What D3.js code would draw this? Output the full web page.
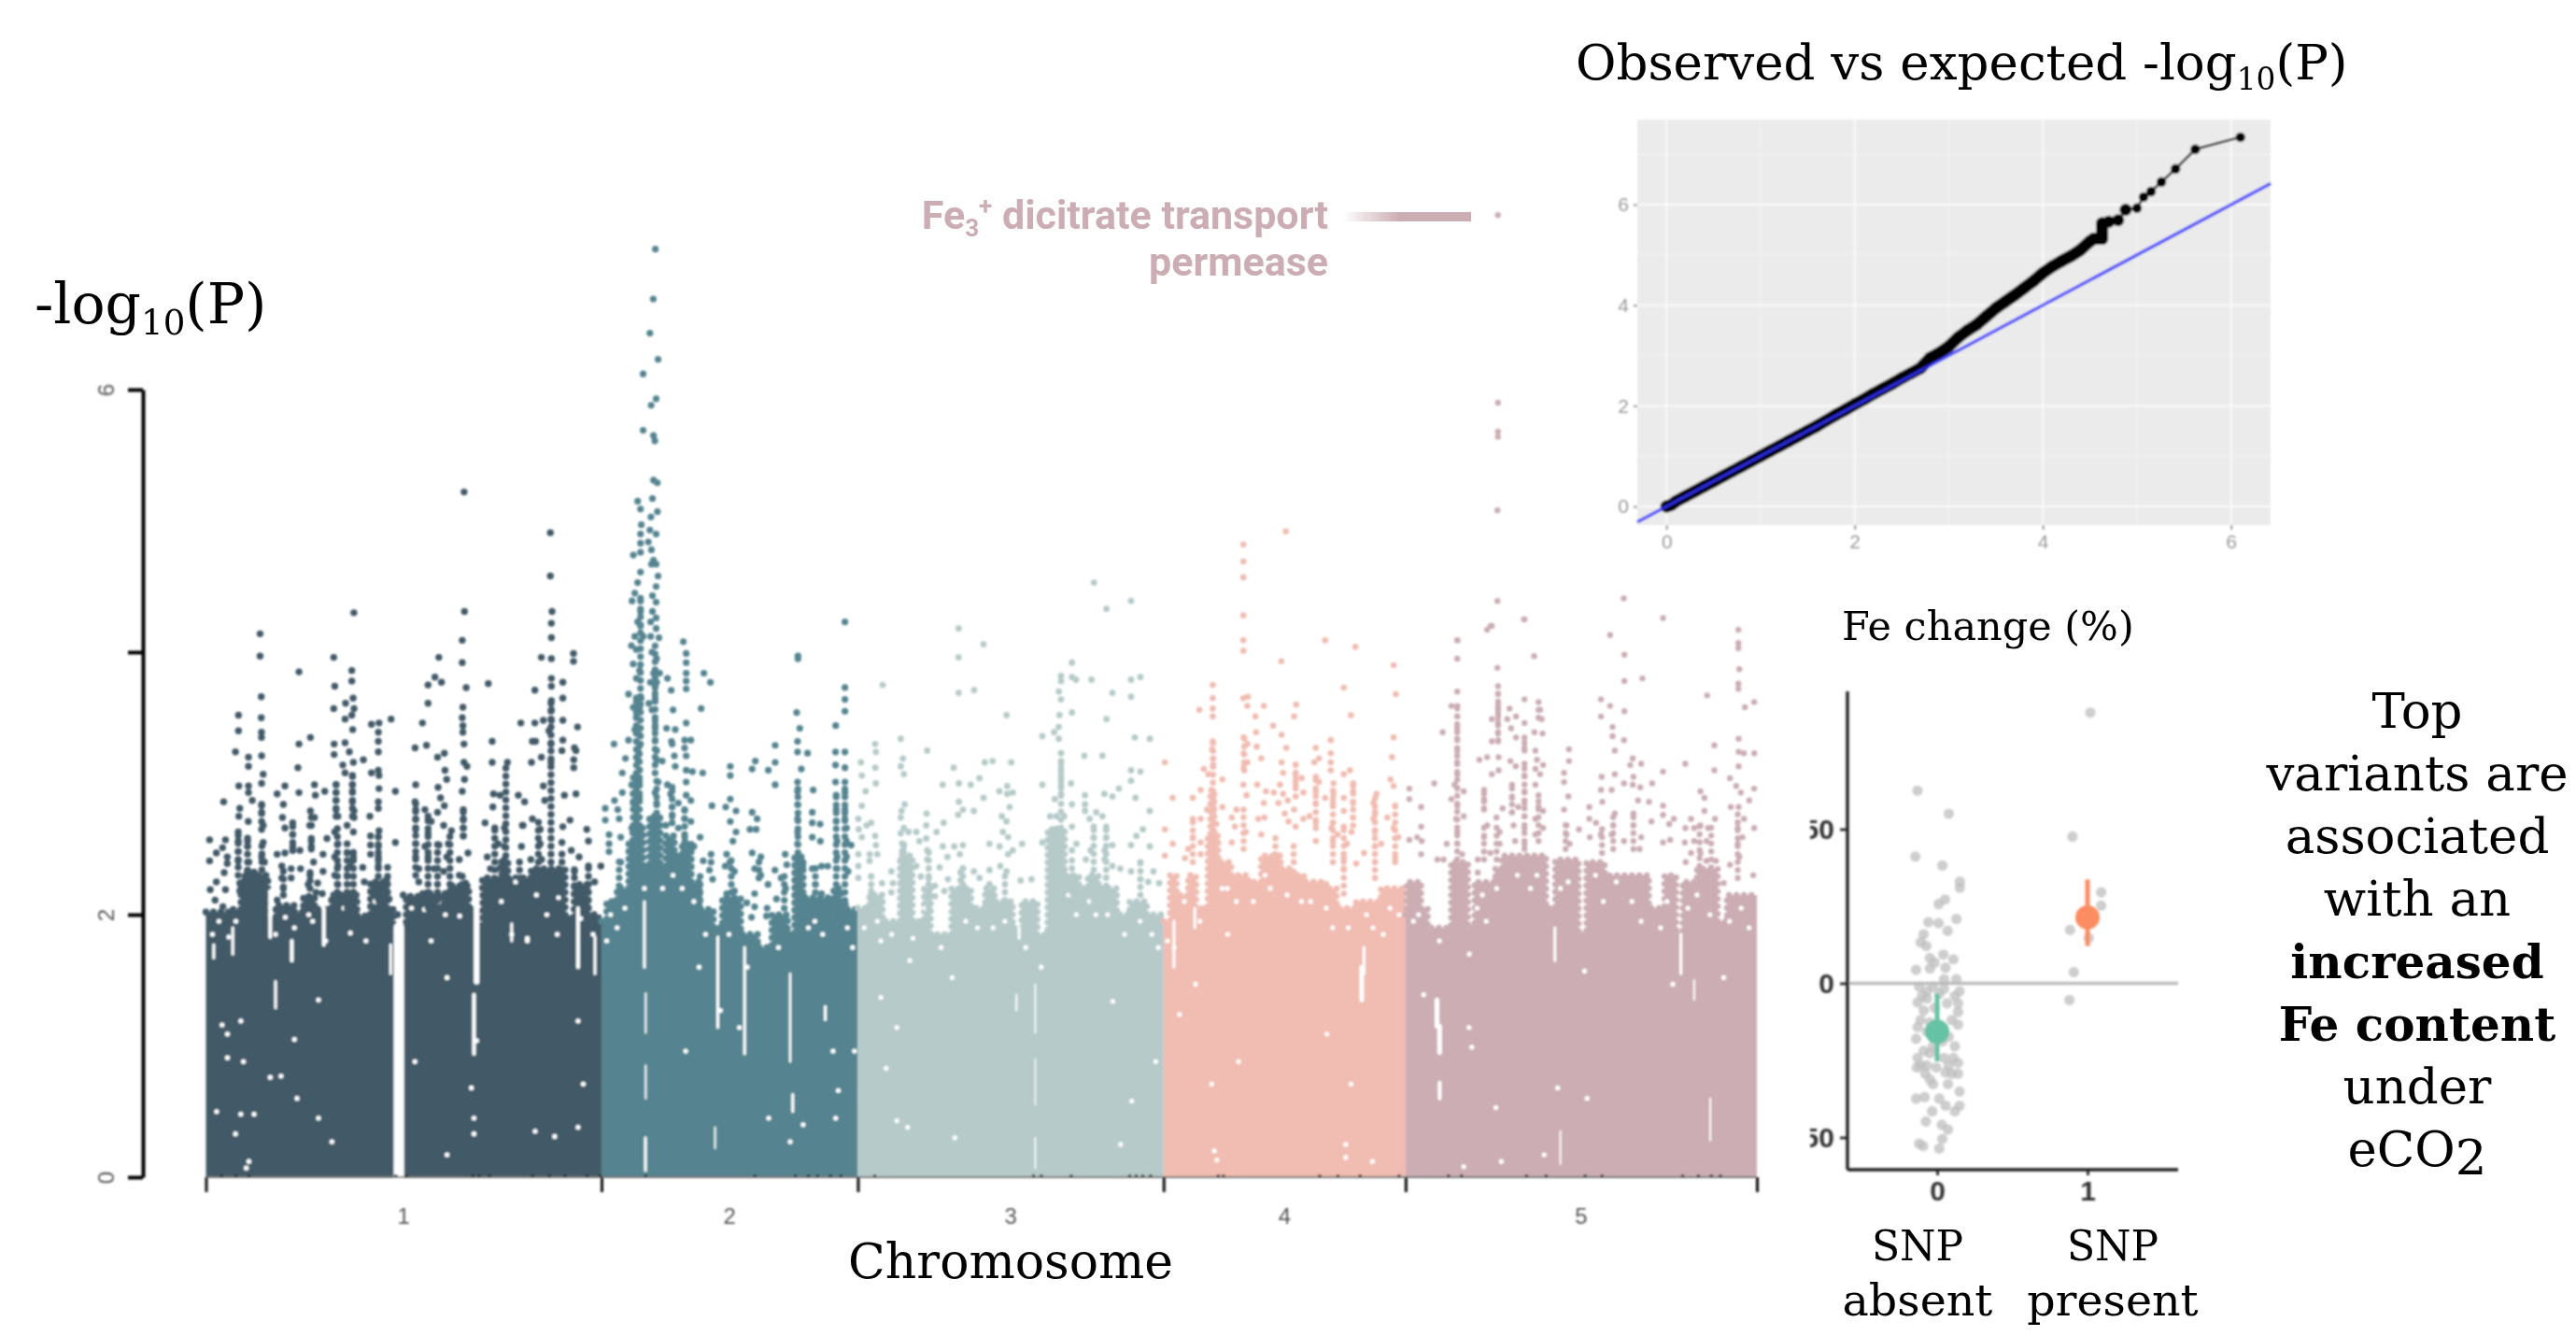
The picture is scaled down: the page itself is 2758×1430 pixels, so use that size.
<!DOCTYPE html>
<html><head><meta charset="utf-8">
<script src="https://cdn.jsdelivr.net/npm/d3@7"></script>
<style>html,body{margin:0;background:#fff;overflow:hidden}svg{display:block}text{font-family:"DejaVu Serif",serif;fill:#000}</style>
</head><body><svg id="c" width="2758" height="1430"></svg>
<script>
// ---------- Manhattan plot data (position in Mb within chromosome, -log10 P) ----------
const chromosomes = ["1","2","3","4","5"];
const chromLengths = [30.4,19.7,23.5,18.6,27.0];
const chromColors = ["#425a68","#558490","#b5cac9","#f1bcb1","#cbadb3"];
const chromDotRadius = [3.7,3.6,3.4,3.3,3.2];

const chr1Profile = [[0,2.02],[2,2.04],[2.7,2.25],[3,2.33],[3.7,2.3],[4.75,1.95],[5.35,2.07],[6.8,2.02],[7.5,2.14],[8.35,2.04],[9.65,2.15],[11.6,1.99],[12.65,2.25],[13.75,2.04],[14.4,1.9],[15.4,2.14],[16.35,2.16],[18.75,2.22],[20.2,2.04],[20.8,1.9],[21.25,2.28],[22.6,2.4],[23.2,2.28],[25,2.35],[27.6,1.97],[28.3,2.23],[29.3,2],[30.4,2]];
const chr2Profile = [[0,1.95],[0.4,2.1],[1.2,2.2],[2.1,2.55],[2.4,2.66],[3.2,2.35],[3.7,2.75],[4.5,2.35],[4.95,2.6],[5.6,2.45],[6.2,2.55],[6.9,2.25],[7.5,2.04],[8.6,1.9],[9.3,2.13],[10.7,1.85],[12,1.75],[13.1,2],[14.3,1.85],[14.85,2.44],[15.5,2.13],[17.6,1.95],[17.85,2.2],[18.4,2.1],[18.75,2.04],[19.7,2.04]];
const chr3Profile = [[0,2.05],[0.9,2.15],[1.9,1.95],[3.25,2.45],[4.2,1.95],[5.1,2.2],[5.6,1.85],[7.2,2.2],[8.7,2.05],[9.8,2.2],[10.5,2.1],[11.9,1.9],[12.6,2.1],[13.8,1.85],[14.6,2.65],[15.9,2.3],[17,2.2],[17.7,2.3],[18.5,2.2],[19.9,2],[20.9,2.1],[22.2,2],[23.5,2]];
const chr4Profile = [[0,1.95],[0.5,2.3],[1,2.15],[1.9,2.3],[2.5,2.05],[3.4,2.6],[3.6,2.95],[3.9,2.6],[4.2,2.4],[5.2,2.3],[6.5,2.25],[7.5,2.45],[9,2.35],[10,2.3],[10.8,2.25],[12.5,2.2],[13.3,2.05],[14.8,2.1],[16.7,2.2],[18.6,2.2]];
const chr5Profile = [[0,2],[0.1,2.25],[1.2,2.05],[1.7,1.9],[3.5,2.4],[4.8,1.9],[5.3,2.25],[6.9,2.35],[7.4,2.45],[10.8,2.05],[11.5,2.42],[13.3,1.85],[13.9,2.4],[15.3,2.3],[17,2.3],[18.7,2.05],[19.9,2.3],[20.8,1.85],[21.3,2.25],[22.4,2.35],[24,1.95],[24.7,2.15],[27,2.15]];

const chr1Points = [[19.84,5.22],[26.47,4.91],[26.47,4.58],[19.87,4.31],[26.6,4.31],[26.55,4.22],[11.37,4.3],[4.16,4.14],[4.16,3.97],[26.55,4.11],[19.7,4.09],[19.7,3.92],[2.5,3.52],[2.5,3.4],[2.27,3.24],[3.27,3.2],[3.27,3.13],[4.25,3.66],[4.25,3.5],[4.27,3.39],[4.27,3.35],[4.28,3.21],[4.4,3.07],[4.28,3],[2.53,2.98],[3.27,2.98],[3.27,2.93],[1.36,2.86],[3.56,2.87],[2.6,2.81],[2.53,2.75],[3.25,2.71],[4.28,2.84],[4.28,2.78],[4.4,2.68],[2.48,2.63],[2.48,2.56],[2.48,2.48],[2.48,2.41],[1.5,2.57],[1.28,2.51],[0.8,2.47],[0.28,2.57],[0.28,2.41],[1.64,2.44],[1.64,2.39],[1.4,2.32],[3.2,2.56],[3.2,2.52],[3.3,2.4],[3.2,2.33],[4.4,2.55],[4.5,2.4],[4.28,2.44],[0.33,2.19],[0.8,2.25],[1.5,2.19],[0.7,2.11],[1.3,2.06],[2.6,2.24],[2.6,2.18],[7.15,3.85],[7.15,3.3],[8.03,3.35],[7.07,3.12],[7.15,2.93],[6.07,2.98],[5.47,2.92],[5.95,2.84],[5.88,2.74],[6.07,2.66],[6.67,2.7],[6.67,2.61],[6.67,2.52],[5.47,2.46],[6.07,2.47],[6.67,2.49],[7.22,2.49],[8.34,2.99],[8.41,2.91],[9.13,2.94],[8.03,2.79],[8.34,2.74],[7.98,2.68],[8.1,2.58],[8.1,2.52],[9,2.46],[8.27,2.4],[9,2.33],[5.83,2.37],[6.55,2.35],[7.27,2.35],[5.83,2.28],[6.55,2.28],[5.95,2.2],[8,2.3],[7.86,2.23],[8.58,2.24],[8.46,2.17],[8.94,2.16],[5.47,2.11],[9.82,3.96],[9.9,3.74],[9.82,3.57],[10.73,3.61],[11.31,3.65],[11.38,3.57],[11.21,3.52],[10.69,3.49],[11.21,3.86],[11.21,3.78],[11.28,3.41],[9.85,3.3],[9.85,3.22],[10.69,3.31],[11.02,3.24],[10.52,3.14],[10.69,3.08],[11.33,3.16],[12.1,3.18],[11.26,3.06],[11.26,2.99],[11.26,2.94],[10,2.99],[10,2.93],[10,2.87],[10,2.8],[10.14,2.75],[11.26,2.86],[11.38,2.79],[11.38,2.74],[9.9,2.63],[10.85,2.68],[11.33,2.63],[10.85,2.54],[10.14,2.54],[9.3,2.58],[9.9,2.44],[10.85,2.47],[11.33,2.44],[10.14,2.37],[11.09,2.37],[9.9,2.3],[10.85,2.3],[10.14,2.23],[12.72,3.45],[13.3,3.46],[13.25,3.39],[13.25,3.32],[13.25,3.24],[14.23,3.49],[12.72,3.08],[13.25,3.1],[13.3,3.06],[13.3,2.96],[14.56,2.94],[13.25,2.86],[13.25,2.81],[12.6,2.75],[13.3,2.64],[12.65,2.6],[13.25,2.59],[12.65,2.53],[13.25,2.52],[14.56,2.55],[12.65,2.46],[13.25,2.44],[13.96,2.36],[12.05,2.36],[13.25,2.37],[12.17,2.25],[13.9,2.27],[13.9,2.18],[14.08,2.12],[15.16,2.15],[14.73,2],[16.12,2.99],[16.07,3.27],[16.95,3.29],[16.64,3.46],[17.07,3.61],[17.07,3.75],[17.6,3.81],[18.1,3.77],[17.9,3.96],[18.32,3.23],[17.8,3.2],[18.37,3.1],[18.5,3.03],[17.84,2.97],[18.03,2.89],[18.32,2.83],[17.8,2.78],[16.07,2.86],[16.12,2.8],[16.12,2.73],[16.12,2.65],[16.83,2.8],[17.07,2.75],[17.31,2.71],[17.07,2.62],[18.27,2.68],[18.87,2.64],[16.12,2.54],[16.83,2.52],[17.91,2.53],[18.63,2.54],[16.12,2.44],[17.07,2.44],[18.51,2.44],[19.47,2.42],[20.14,2.47],[16.36,2.35],[17.55,2.35],[16.36,2.25],[18.27,2.33],[19.47,2.3],[19.95,2.24],[16.83,2.16],[20,3.73],[19.75,3.58],[19.7,3.5],[19.75,3.44],[19.75,3.39],[19.83,3.3],[19.83,3.16],[20.06,3.13],[19.87,3.03],[19.7,2.94],[19.78,2.8],[19.78,2.73],[19.78,2.66],[19.78,2.6],[21.7,3.76],[22,3.32],[22,3.16],[23.17,3.16],[22.1,2.92],[22.6,2.91],[22.05,2.82],[21.45,2.7],[22.2,2.66],[22.94,2.66],[22.46,2.54],[21.62,2.44],[22.94,2.52],[22.94,2.42],[21.86,2.35],[24.01,2.91],[24.49,2.86],[24.32,2.68],[24.25,2.52],[24.2,3.46],[25.28,3.71],[25.28,3.46],[25.93,3.48],[25.78,3.96],[26.55,3.95],[26.55,3.8],[26.55,3.74],[26.55,3.63],[26.55,3.56],[26.55,3.48],[26.36,3.4],[27.43,3.77],[27.43,3.65],[27.43,3.48],[27.43,3.33],[28.25,3.99],[28.25,3.93],[28.56,3.43],[28.32,3.27],[28.44,3.25],[28.27,3.18],[28.27,3.12],[25.09,3.32],[25.33,3.32],[25.02,3.16],[25.78,3.2],[27.36,3.25],[26.52,3.3],[26.52,3.16],[25.93,2.98],[26.04,2.87],[27.55,2.91],[28.44,2.92],[27.98,2.72],[27.43,2.67],[29.27,2.65],[25.09,2.73],[24.37,2.68],[25.69,2.65],[25.69,2.54],[27.36,2.55],[25.8,2.42],[28.08,2.49],[28.68,2.44],[29.4,2.56],[29.4,2.37],[28.32,2.33],[29.87,2.25],[29.27,2.19],[30.35,2.37],[24.97,2.42]];
const chr2Points = [[4.14,7.07],[3.98,6.69],[3.72,6.43],[4.35,6.23],[3.2,6.12],[4.2,5.93],[3.82,5.88],[3.2,5.69],[4,5.65],[4.1,5.61],[4,5.31],[4.29,5.29],[2.78,5.15],[3,5.09],[3.92,5.17],[4.3,5.07],[3.8,5.03],[3.06,4.97],[3,4.9],[3.72,4.93],[4.2,4.9],[3,4.83],[3.6,4.84],[3.84,4.78],[2.45,4.74],[3,4.76],[4,4.7],[4.2,4.67],[3.84,4.67],[3,4.61],[4.35,4.58],[2.78,4.53],[4.2,4.5],[2.56,4.45],[3,4.41],[3.92,4.43],[4.2,4.38],[2.35,4.39],[3,4.31],[3.92,4.31],[4.2,4.26],[2.78,4.23],[3.78,4.23],[3,4.2],[4.2,4.18],[2.56,4.12],[3.2,4.12],[3.78,4.12],[4.42,4.11],[2.3,4.05],[2.68,4.02],[3.88,4],[4.24,3.95],[2.44,3.91],[2.92,3.86],[4,3.84],[2.68,3.8],[4.47,3.84],[5.07,3.8],[3.76,3.77],[4.24,3.77],[4.12,3.73],[5.36,3.71],[2.08,3.68],[2.68,3.65],[3.04,3.65],[4.12,3.65],[3.64,3.61],[2.44,3.58],[2.92,3.58],[2.68,3.58],[2.68,3.54],[5.5,3.56],[3.88,3.56],[2.68,3.5],[4.12,3.48],[4.12,3.42],[5,3.42],[5.67,3.41],[2.56,3.41],[2.92,3.37],[2.08,3.33],[4.12,3.33],[5.38,3.32],[0.96,3.3],[6.51,3.46],[6.39,3.33],[6.87,3.33],[5.43,3.3],[4.24,3.25],[2.8,3.25],[6.39,3.27],[5.6,3.21],[6.51,3.21],[1.84,3.19],[2.8,3.18],[4.24,3.18],[4.67,3.17],[5.67,3.13],[1.6,3.08],[2.92,3.1],[6.51,3.1],[6.99,3.09],[7.78,3.08],[6.51,3.01],[5.07,2.99],[5.43,2.97],[2.92,3.01],[2.32,2.99],[4.36,3.01],[1.6,2.93],[2.44,2.92],[5.31,2.92],[4.12,2.93],[6.51,2.91],[6.87,2.87],[2.92,2.89],[1,2.87],[0.29,2.81],[1.25,2.8],[0.29,2.72],[1.36,2.73],[2.44,2.85],[4.24,2.85],[5.43,2.82],[5.91,2.85],[6.39,2.8],[4.24,2.75],[5.43,2.75],[6.39,2.73],[6.87,2.71],[0.58,2.61],[0.58,2.54],[0.58,2.48],[1.48,2.59],[2.32,2.66],[2.92,2.66],[4.24,2.66],[4.95,2.68],[5.91,2.66],[7.58,2.59],[7.1,2.52],[6.39,2.59],[1.48,2.4],[4.95,2.54],[6.39,2.49],[7.82,2.41],[8.42,2.46],[8.42,2.4],[8.54,2.27],[8.3,2.34],[6.29,4.08],[6.51,3.99],[6.51,3.92],[6.51,3.84],[6.51,3.78],[6.51,3.72],[7.87,3.84],[8.37,3.77],[7.66,3.57],[9.9,3.13],[9.9,3.06],[9.9,2.88],[9.55,2.82],[10.34,2.79],[9.9,2.71],[10.34,2.63],[10.1,2.56],[8.49,2.83],[11.58,2.78],[11.96,2.73],[11.41,2.65],[11.89,2.65],[11.58,2.47],[11.82,3.17],[11.58,3.11],[12.82,3.1],[13.35,3.29],[13.35,3.16],[13.35,2.99],[12.25,2.44],[11.77,2.35],[12.25,2.3],[9.62,2.46],[9.86,2.4],[10.22,2.33],[9.5,2.37],[13.33,2.34],[14.12,2.46],[14.24,2.38],[13.8,2.28],[12.8,2.23],[11.77,2.16],[11.17,2.09],[11.77,2.06],[12.73,2.05],[12.68,1.99],[11.53,1.98],[13.45,2.12],[14.16,2.2],[9.62,2.16],[10.22,2.18],[15.1,3.97],[15.1,3.95],[15,3.54],[15.24,3.42],[15.07,3.32],[15.07,3.24],[15.84,3.23],[15.36,3.11],[15.07,3.01],[15.07,2.94],[15.07,2.84],[15.07,2.73],[15.07,2.63],[15.07,2.54],[15.07,2.44],[16.27,2.95],[16.2,2.78],[16.2,2.7],[16.8,2.69],[16.2,2.59],[16.82,2.56],[15.48,2.37],[16.2,2.35],[16.91,2.37],[17.39,2.37],[16.44,2.23],[16.91,2.16],[18.71,4.23],[18.71,3.73],[18.71,3.64],[18.71,3.55],[18,3.44],[17.99,3.24],[18.71,3.24],[17.99,3.14],[18.71,3.12],[17.99,3.01],[18.71,3.01],[18.71,2.93],[18.04,2.91],[18.04,2.8],[18.71,2.8],[18.04,2.71],[18.71,2.73],[18.83,2.66],[18.11,2.56],[18.83,2.56],[19.19,2.53],[18.11,2.44],[18.83,2.44],[18.11,2.35],[18.95,2.33]];
const chr3Points = [[18.15,4.53],[21,4.39],[19.11,4.33],[1.91,3.75],[0.24,3.16],[0.31,3.06],[1.34,3.3],[1.39,3.24],[1.34,3.12],[1.39,3],[0.6,2.94],[0.31,2.83],[0.04,2.73],[0.07,2.65],[0.31,2.59],[0.67,2.68],[1.03,2.7],[1.34,2.6],[1.39,2.53],[0.04,2.46],[0.04,2.37],[0.04,2.28],[0.91,2.46],[1.5,2.46],[0.91,2.41],[2.58,2.33],[1.03,2.29],[1.86,2.24],[2.7,2.24],[1.03,2.18],[2.58,2.17],[1.38,2.13],[3.3,3.34],[3.47,3.19],[3.3,3.13],[3.54,3.07],[5.33,3.25],[3.61,2.84],[3.37,2.79],[3.3,2.74],[3.54,2.66],[3.9,2.63],[3.3,2.62],[5.28,2.77],[5.26,2.68],[4.5,2.63],[4.73,2.56],[5.26,2.58],[3.54,2.52],[5.33,2.49],[3.42,2.44],[5.33,2.42],[4.5,2.37],[4.85,2.29],[5.45,2.28],[6.05,2.63],[6.6,2.7],[6.53,2.99],[6.53,2.52],[7.37,3.12],[7.77,3],[8.68,2.99],[9.35,3.04],[9.66,2.89],[7.77,2.86],[8.08,2.8],[7.72,2.76],[8.92,2.79],[9.76,3.16],[10.36,3.17],[11.79,3.16],[7.75,4.18],[7.75,3.96],[7.75,3.69],[8.94,3.71],[9.66,4.06],[11.43,3.52],[10.88,2.94],[11.48,2.98],[11.91,2.93],[11.48,2.92],[11.67,2.82],[11.07,2.75],[11.43,2.71],[11.15,2.63],[11.55,2.59],[10.12,2.54],[10.9,2.52],[11.91,2.49],[11.55,2.46],[12.63,2.54],[7.41,2.52],[8.08,2.53],[7.84,2.46],[6.89,2.44],[6.29,2.36],[6.93,2.27],[6.65,2.18],[7.37,2.17],[5.93,2.22],[5.93,2.14],[8.08,2.35],[8.92,2.33],[9.35,2.28],[10.12,2.34],[10.95,2.37],[11.43,2.33],[12.51,2.26],[13.35,2.27],[14.18,2.99],[14.18,3.36],[15.09,3.39],[15.45,3.43],[15.45,3.34],[15.5,3.52],[16.46,3.54],[15.45,3.7],[15.62,3.64],[15.62,3.82],[15.62,3.78],[16.46,3.92],[16.46,3.81],[16.77,3.79],[17.96,3.79],[15.62,3.23],[15.62,3.17],[15.62,3.11],[15.62,3.05],[15.62,2.99],[15.62,2.92],[15.14,2.88],[16.39,3],[16.46,2.84],[14.78,2.75],[15.26,2.75],[15.86,2.75],[14.18,2.55],[17.41,3.21],[18.8,3.21],[19.57,3.69],[19.11,3.49],[21,3.79],[21.72,3.81],[21,3.66],[21.29,3.35],[22.44,3.34],[21,3.1],[21.72,3.09],[21,3.02],[20.07,2.96],[18.95,2.92],[19.57,2.9],[21.34,2.89],[17.46,2.91],[17.46,2.84],[17.46,2.79],[18.32,2.78],[18.8,2.75],[17.82,2.73],[16.46,2.67],[22.44,2.79],[21.91,2.65],[21.41,2.6],[21,2.53],[22.44,2.52],[18.13,2.67],[19.09,2.67],[18.13,2.59],[19.09,2.59],[19.57,2.53],[16.81,2.54],[16.46,2.49],[17.89,2.49],[17.53,2.42],[18.97,2.49],[18.97,2.42],[21.72,2.4],[22.72,2.33],[21,2.33],[22.32,2.25],[23.16,2.24],[21.72,2.27],[20.17,2.35],[19.57,2.37]];
const chr4Points = [[9.4,4.92],[6.13,4.82],[6.13,4.69],[6.13,4.57],[6.13,4.28],[6.13,4.09],[6.13,4.01],[12.42,4.09],[14.74,4.04],[9.05,3.93],[17.68,3.9],[3.78,3.75],[3.78,3.65],[3.78,3.57],[3.78,3.51],[2.75,3.56],[6.13,3.65],[6.49,3.66],[6.44,3.59],[7.71,3.59],[7.06,3.51],[10.19,3.6],[10.03,3.51],[13.85,3.73],[17.85,3.68],[14.4,3.52],[8.42,3.44],[9.07,3.37],[7.11,3.39],[7.16,3.28],[9.43,3.27],[7.51,3.19],[6.15,3.35],[6.44,3.3],[6.15,3.23],[6.44,3.16],[6.15,3.12],[3.78,3.32],[3.73,3.26],[3.81,3.19],[3.81,3.14],[0.1,3.16],[3.09,3.11],[3.45,3.07],[4.52,3.03],[0.7,2.89],[2.85,2.95],[2.25,2.89],[6.13,2.99],[6.37,2.91],[4.52,2.82],[5.6,2.8],[6.15,2.8],[11.7,3.27],[12.85,3.33],[12.85,3.23],[12.85,3.16],[12.85,3.1],[11.94,3.19],[11.58,3.16],[9.07,3.16],[9.19,3.08],[10.15,3.14],[10.15,3.06],[10.62,3.04],[10.15,2.99],[10.74,2.93],[14.33,3.1],[13.85,3.07],[17.68,3.35],[17.56,3.2],[17.44,3.03],[17.68,2.98],[14.57,3],[14.57,2.94],[13.06,3],[13.06,2.92],[11.7,3.05],[11.94,3.01],[11.7,2.94],[11.7,2.85],[12.42,2.89],[13.02,2.85],[13.85,2.89],[13.85,2.79],[14.57,2.85],[14.57,2.74],[16.37,2.92],[16.13,2.85],[16.25,2.78],[16.13,2.73],[17.8,2.83],[17.2,2.74],[17.68,2.66],[18.04,2.59],[7.2,2.99],[7.87,2.94],[8.47,2.93],[8.95,2.99],[9.19,2.92],[8.83,2.85],[7.71,2.85],[9.55,2.87],[10.03,2.8],[9.31,2.77],[7.28,2.73],[7.75,2.74],[5.24,2.74],[5.48,2.67],[6.32,2.63],[7.51,2.61],[9.6,2.71],[10.15,2.67],[11.22,2.75],[10.74,2.73],[11.7,2.7],[11.7,2.56],[13.02,2.7],[13.02,2.56],[12.9,2.66],[13.85,2.67],[14.45,2.63],[13.38,2.61],[14.09,2.54],[2.25,2.73],[2.25,2.59],[2.85,2.73],[0.1,2.65],[0.7,2.54],[0.1,2.45],[2.85,2.55],[2.85,2.46],[1.89,2.5],[1.65,2.43],[3.33,2.8],[4.05,2.69],[5.24,2.55],[15.41,2.47],[13.85,2.43],[13.85,2.35],[14.81,2.39],[16.25,2.63],[16.25,2.52],[16.72,2.54],[17.8,2.43],[16.25,2.4]];
const chr5Points = [[7.1,7.33],[7.1,5.9],[7.1,5.68],[7.1,5.64],[7.06,5.08],[7.06,4.39],[9.14,4.25],[6.63,4.2],[6.27,4.17],[3.97,4.09],[3.97,3.95],[7.06,3.88],[9.88,3.97],[16.77,4.41],[19.79,4.26],[15.72,4.13],[16.82,3.98],[16.82,3.78],[18.2,3.8],[25.58,4.17],[25.58,4.07],[25.58,4.03],[25.65,3.87],[25.58,3.76],[25.58,3.72],[23.18,3.67],[26.08,3.58],[26.79,3.62],[3.97,3.7],[3.52,3.59],[3.98,3.59],[3.97,3.51],[3.97,3.42],[3.97,3.34],[2.85,3.39],[3.97,3.25],[3.97,3.16],[3.98,3.07],[3.76,2.99],[3.98,2.96],[4.47,2.94],[3.52,2.88],[3.98,2.83],[4.47,2.75],[3.88,2.73],[2.2,3],[0.29,2.96],[0.29,2.88],[1.2,2.82],[1.2,2.67],[0.29,2.57],[0.89,2.59],[1.24,2.56],[1.2,2.46],[3.16,2.54],[2.44,2.42],[2.92,2.42],[3.98,2.63],[3.98,2.54],[4.35,2.46],[7.11,3.74],[7.11,3.68],[7.11,3.59],[7.11,3.53],[6.63,3.49],[7.11,3.46],[7.11,3.39],[6.63,3.32],[7.11,3.33],[7.99,3.57],[7.82,3.49],[8.49,3.51],[8.11,3.42],[8.49,3.35],[9.14,3.64],[9.14,3.46],[9.14,3.35],[9.14,3.27],[10.22,3.62],[10.34,3.56],[10.46,3.49],[9.9,3.39],[10.53,3.38],[9.98,3.25],[5.67,3.18],[6.27,3.2],[7.15,3.2],[6.63,3.07],[7.15,3.1],[8.06,3.17],[8.47,3.13],[9.14,3.15],[9.14,3.06],[10.1,3.18],[10.57,3.14],[9.98,3.11],[10.34,3.07],[9.98,2.99],[8.18,2.99],[6.03,2.95],[6.03,2.88],[6.03,2.81],[7.46,2.81],[8.18,2.89],[8.66,2.82],[9.14,2.94],[9.14,2.85],[9.14,2.75],[10.22,2.91],[10.22,2.82],[10.57,2.79],[9.98,2.73],[9.98,2.61],[10.57,2.66],[8.18,2.78],[6.99,2.74],[8.3,2.68],[6.27,2.68],[7.23,2.63],[6.03,2.59],[7.23,2.54],[8.42,2.56],[9.14,2.66],[9.14,2.54],[6.51,2.47],[5.55,2.42],[5.55,2.32],[12.56,3.26],[12.56,3.17],[12.18,3.08],[12.18,3.01],[12.51,2.9],[12.18,2.8],[12.37,2.68],[12.37,2.61],[13.33,2.65],[12.61,2.54],[14.16,2.59],[14.12,2.82],[14.12,2.73],[14.64,2.7],[15.07,3.05],[15.02,2.95],[15.84,2.95],[16.08,3.07],[16.08,3.25],[15.91,3.43],[15.91,3.36],[16.79,3.33],[15.72,3.59],[16.82,3.55],[15.02,3.64],[15.02,3.51],[17.46,3.19],[17.27,3.14],[18.11,3.15],[17.51,3.05],[16.79,3],[17.46,2.99],[18.04,2.97],[18.95,3],[19.79,3.09],[21.5,3.15],[23.73,3.29],[23.73,3.1],[15.12,2.86],[17.87,2.87],[18.71,2.86],[19.79,2.83],[19.79,2.76],[20.62,2.73],[20.26,2.69],[18.9,2.71],[17.51,2.77],[16.08,2.77],[15.96,2.68],[15,2.61],[15.84,2.61],[17.51,2.68],[18.11,2.59],[16.79,2.56],[17.99,2.5],[19.79,2.55],[20.34,2.57],[22.66,2.94],[22.97,2.89],[22.97,2.79],[21.94,2.73],[23.78,2.73],[21.51,2.66],[22.18,2.66],[22.66,2.68],[23.25,2.66],[21.46,2.55],[22.18,2.56],[23.13,2.56],[21.94,2.47],[22.66,2.47],[23.13,2.41],[23.85,2.41],[21.53,2.4],[25.6,3.34],[25.6,3.24],[26,3.23],[26.8,3.23],[25.6,3.13],[24.93,3.04],[25.41,2.98],[25.77,2.93],[26.79,2.96],[26.41,2.87],[25,2.82],[25.6,2.82],[26.01,2.73],[26.79,2.66],[25.53,2.66],[25.89,2.59],[25.53,2.54],[25.65,2.44],[24.93,2.38],[26.72,2.3],[24.45,2.24],[6.53,4.2],[9.1,4.25],[3.99,4.09]];

// vertical runs of overlapping points: [Mb, low, high]
const chr1Runs = [[4.3,2.1,2.55],[2.48,2.3,2.65],[3.2,2.28,2.6],[5.95,2.15,2.37],[6.67,2.49,2.7],[8.1,2.68,2.8],[8.1,2.5,2.6],[8,2.2,2.35],[10,2.75,3],[10.1,2.05,2.7],[10.85,2.05,2.5],[11.26,2.75,3.07],[11.33,2.05,2.5],[13.25,2.05,2.65],[13.96,2.05,2.35],[16.12,2.3,2.87],[17.07,2.05,2.75],[17.8,2.05,2.55],[18.75,2.05,2.63],[19.78,2.6,2.8],[19.7,2.05,2.33],[22.2,2.28,2.68],[23.05,2.33,3.17],[24.1,2.28,2.45],[25.55,2.28,2.75],[26.52,2.28,3.65],[27.36,2.28,2.52],[28.32,2.16,2.37],[29.4,2.05,2.4],[4.28,2.65,2.85]];
const chr2Runs = [[2.68,2.05,3.63],[2.92,2.5,3.3],[4.12,3.08,4.08],[4.24,2.05,3.03],[2.44,2.5,3.1],[3,3.3,4.4],[5.43,2.7,3],[6.39,2.37,2.82],[1.36,2.16,2.42],[7.58,2.05,2.35],[9.98,2.05,2.47],[12.1,2.28,2.44],[14.05,2.05,2.3],[15.1,2.05,3],[16.44,2.05,2.37],[18.04,2.05,2.92],[18.71,2.05,3]];
const chr3Runs = [[15.62,2.3,3.2],[15.26,2.05,2.68],[3.54,2.05,2.55],[3.4,2.3,2.6],[5.45,2.05,2.5],[8.08,2.05,2.37],[10.12,2.05,2.28],[11.31,2.05,2.35],[16.46,2.05,2.42],[18.13,2.1,2.67],[19.09,2.1,2.67],[21.72,2.15,2.4],[1.03,2.05,2.3],[7.9,2.2,2.35]];
const chr4Runs = [[3.8,2.4,3.35],[2.25,2.4,2.75],[6.2,3.1,3.38],[6.15,2.5,2.8],[11.7,2.66,3.05],[13.02,2.4,3],[13.85,2.16,2.68],[14.57,2.68,3],[16.25,2.28,2.92],[17.8,2.4,2.85],[10.15,2.9,3.16],[8.6,2.4,2.63],[10,2.4,2.55]];
const chr5Runs = [[3.97,2.18,3.6],[6.03,2.8,2.96],[6.03,2.42,2.7],[7.11,3.32,3.74],[7,2.42,2.7],[9.14,3.25,3.37],[9.14,2.75,3.17],[9.14,2.5,2.7],[10.22,3.5,3.62],[10.22,2.56,2.92],[8.18,2.78,3],[12.3,2.5,2.7],[15.96,2.5,2.78],[15.1,2.47,2.7],[17.51,2.5,2.78],[22.6,2.37,2.68],[23.49,2.3,2.68],[25.53,2.28,2.82]];

// white streaks where points are missing: [Mb, low, high, span in Mb]
const chr1Gaps = [[14.83,0,1.9,0.8],[20.8,1.49,2.15,0.43],[20.6,0.94,1.39,0.29],[4.94,1.83,2.18,0.29],[5.35,1.29,1.49,0.22],[2.06,1.7,1.9,0.22],[0.6,1.67,1.77,0.22],[6.6,1.65,1.8,0.29],[9.06,1.77,2.05,0.29],[14.2,1.55,1.77,0.22],[23.5,1.8,1.93,0.22],[28.6,1.6,2.05,0.29],[29.9,1.55,1.83,0.22]];
const chr2Gaps = [[3.38,0.05,0.3,0.22],[3.4,0.6,0.85,0.14],[3.4,1.1,1.4,0.14],[3.3,1.6,2.1,0.22],[8.94,1.14,1.83,0.22],[11,0.94,1.75,0.22],[14.5,0.88,1.55,0.18],[17.2,1.2,1.3,0.22],[14.7,0.5,0.63,0.22],[8.73,0.22,0.38,0.14]];
const chr3Gaps = [[13.64,0.07,0.3,0.12],[13.64,0.55,0.9,0.1],[13.64,1.1,1.47,0.12],[12.19,1.27,1.39,0.14],[12.4,1.82,1.9,0.22]];
const chr4Gaps = [[15.23,1.35,1.6,0.36],[15.4,1.55,1.75,0.22],[0.8,1.6,1.95,0.22],[2.4,1.9,2.05,0.22]];
const chr5Gaps = [[2.41,1.15,1.35,0.36],[2.62,0.95,1.15,0.36],[2.62,0.6,0.72,0.29],[23.42,0.28,0.6,0.14],[11.9,0.1,0.35,0.14],[11.48,1.65,1.9,0.22],[21.16,1.55,1.85,0.22],[22.18,1.35,1.5,0.14]];

// single missing points
const chr1Holes = [[8.65,1.35],[1.24,1.16],[2.68,1.19],[1.65,1.09],[6.8,1.05],[4.94,0.76],[5.77,0.77],[2.88,0.88],[1.65,0.91],[3.7,0.48],[2.68,0.48],[8.65,0.45],[0.82,0.5],[2.27,0.33],[3.3,0.12],[3.1,0.07],[9.68,0.27],[18.53,1.52],[24.7,1.82],[28.6,1.19],[29,0.71],[28.6,0.38],[26.8,0.31],[25.3,0.35],[20.6,0.45],[20.6,0.33],[20.4,0.68],[20.8,1.04],[16.06,0.88],[18.53,0.17],[7,0.6],[5.35,1.85],[6.8,1.9],[8.2,1.95],[9.2,1.8],[11.1,1.86],[12.3,1.8],[16.8,2.04],[17.3,1.8],[19.5,1.99],[23.5,1.85],[24.7,1.8],[27.1,2.13],[23.8,2.25],[22.3,2.3],[1,1.95],[1.76,1.83],[28.8,1.97],[29.75,1.85],[0.5,1.85],[2.3,1.95],[6.1,1.98],[7.9,2.0],[10.6,2.05],[13.0,2.1],[15.8,2.05],[17.9,2.1],[18.4,2.0],[22.7,2.1],[25.4,2.15],[26.2,2.0],[27.0,1.85]];
const chr2Holes = [[18.2,0.66],[18,0.45],[15.5,0.4],[14.5,0.27],[12.85,0.45],[17.8,0.96],[19.44,0.96],[10.6,1.14],[6.47,0.96],[7.5,1.6],[9.14,1.27],[0.7,2],[1.2,1.9],[5.5,2.3],[6.2,2.2],[8,1.85],[9.8,1.85],[11.2,1.6],[13.6,1.75],[16.4,1.95],[17,1.85],[0.4,1.8],[1.8,2.05],[3.3,2.2],[4.7,2.2],[7.1,2.1],[15.9,1.9],[18.9,1.9],[19.3,1.75]];
const chr3Holes = [[7.25,1.52],[19.6,1.34],[7.46,0.3],[20.2,0.25],[21.05,0.58],[22.9,0.88],[2.18,0.83],[1.77,1.37],[3,1.14],[3,0.43],[3.83,0.38],[1.77,1.8],[4.24,1.82],[4,1.65],[1.5,1.95],[2.6,1.85],[6.4,1.75],[8.3,1.95],[10.4,1.9],[12.9,1.75],[14.1,1.6],[16.8,2],[17.8,2.1],[19.2,2],[20.5,1.85],[21.7,1.95],[0.5,1.9],[5.2,2.05],[6.9,2.05],[9.2,1.9],[11.3,1.95],[16.2,2.15],[18.3,2.0],[22.6,1.85],[23.1,1.75]];
const chr4Holes = [[1.23,1.24],[12.55,1.09],[3.9,0.2],[4.1,0.13],[14,0.25],[14,0.15],[16.05,0.12],[3.7,0.71],[14.4,0.71],[2.46,1.47],[5.76,0.88],[0.81,1.75],[4.93,1.85],[16.88,1.85],[1.6,2.1],[2.8,1.95],[4.9,2.2],[5.6,2.1],[6.9,2.1],[8.2,2.2],[11.3,2.1],[12.5,2.05],[14.2,1.9],[15.6,2],[17.4,2.05],[0.3,1.8],[4.5,2.2],[7.8,2.3],[9.5,2.15],[10.6,2.1],[13,1.9],[16.1,1.9],[18.1,2.0]];
const chr5Holes = [[1.39,1.39],[4.88,1.14],[5.09,0.99],[4.47,0.08],[7.36,0.12],[10.65,0.17],[13.95,0.6],[13.75,1.57],[20.54,1.47],[24.45,1.52],[6.94,0.53],[11.69,0.68],[0.6,1.95],[2.6,1.8],[4.9,1.7],[5.9,2.15],[7,2.2],[8.6,2.3],[10.1,2.3],[12.5,2.25],[14.6,2.3],[16.2,2.25],[18.1,1.95],[20.1,2.1],[22.4,2.15],[23.4,2],[25.8,2.05],[26.4,1.9],[1.0,2.0],[5.5,2.05],[6.2,1.95],[9.6,2.2],[11.9,2.2],[15.2,2.1],[17.4,2.1],[19.6,1.9],[21.7,2.05],[24.9,1.95]];

// dark specks along the baseline, position in Mb along the whole genome
const baselineSpecks = [1.2,2.3,3.3,14.6,15.4,20.5,21,21.8,25.1,26.4,27.6,29.3,30.3,33.8,42.2,45.3,46.3,47,48,48.8,51.4,63.6,64.2,66.5,71,71.5,72,72.6,77.8,78.2,85.6,87,88.7,91.7,95.5,96.5,101.5,103,106,107.3,113.5,114.7,115.7,116.4];
const mYTicks = [0,2,4,6];
const mYTickLabels = ["0","2","","6"];

// ---------- QQ plot ----------
const qqExpected = [0,0.05,0.1,0.2,0.3,0.4,0.5,0.6,0.7,0.8,0.9,1,1.1,1.2,1.3,1.4,1.5,1.6,1.7,1.8,1.9,2,2.1,2.2,2.3,2.4,2.5,2.6,2.7,2.8,2.9,3,3.1,3.2,3.3,3.4,3.5,3.6,3.7,3.8,3.9,4,4.1,4.2,4.3,4.4,4.5,4.54,4.63,4.63,4.7,4.8,4.88,5,5.07,5.15,5.26,5.41,5.62,6.1];
const qqObserved = [0,0.03,0.1,0.2,0.3,0.4,0.5,0.6,0.7,0.8,0.9,1,1.1,1.2,1.3,1.4,1.5,1.6,1.71,1.82,1.92,2.03,2.13,2.24,2.34,2.44,2.55,2.65,2.75,2.95,3.05,3.18,3.36,3.5,3.62,3.78,3.94,4.07,4.2,4.34,4.48,4.64,4.77,4.88,4.98,5.1,5.27,5.32,5.32,5.63,5.66,5.69,5.9,5.93,6.15,6.26,6.45,6.71,7.1,7.34];
const qqLineEnds = [-0.31,6.42];
const qqTicks = [0,2,4,6];
const qqMinorX = [1,3,5];
const qqMinorY = [1,3,5,7];

// ---------- Fe change ----------
const feAbsentX = [-.13,.077,-.145,.035,.151,.151,.052,.01,-.058,.01,.128,.07,-.09,-.11,-.072,-.048,.041,.108,-.017,-.048,.056,-.14,.046,.128,-.12,-.068,-.027,.046,.149,.118,-.13,-.068,-.017,.066,.139,-.089,-.11,-.048,.097,.139,-.13,-.14,-.068,.077,.118,-.089,-.13,-.048,.046,.108,.139,-.135,-.068,-.006,.056,.097,.139,-.079,-.027,.072,.149,-.14,-.083,.014,.056,.149,.118,-.033,-.075,.031,.072,.035,-.12,-.093,.014,-.1,.014,.139,-.027,-.11,.077,.035,-.048];
const feAbsentY = [62.5,55,41.1,38.2,33,31,27.2,25.7,19.8,19.5,20.9,17,15.9,13.3,12.1,8.2,9.3,7.8,6.7,4.8,5.1,4.4,1.3,1.3,-1.1,-2.6,-1.1,-1.8,-2.6,-4.1,-6.2,-4.9,-8,-6.5,-9.3,-8.8,-11.9,-12.7,-11.9,-13.4,-14.2,-18,-15.7,-17.3,-20.4,-21.9,-24.2,-22.7,-24.2,-24.2,-25.8,-27.3,-26.6,-27.3,-28.9,-29.3,-29.3,-29.3,-32.7,-32.7,-35.1,-37.4,-36.9,-37.4,-39.7,-39.7,-41.5,-41.5,-44.8,-45.9,-47.4,-50.5,-52,-52.8,-53.6,-4.1,-3.4,-6.5,-20.4,-26.6,-26.6,-18.8,-31.2];
const fePresentX = [1.019,.9,1.091,1.091,.884,1.008,.909,.88];
const fePresentY = [87.8,47.6,29.5,25.2,17.3,14.7,3.6,-5.4];
const feGroups = [0,1];
const feMeans = [-15.7,21.4];
const feLow = [-25.3,12.1];
const feHigh = [-3.4,33.7];
const feColors = ["#66c2a5","#fc8d62"];
const feTicks = [-50,0,50];

// ---------- Text ----------
const noteLines = [["Top",400],["variants are",400],["associated",400],["with an",400],["increased",700],["Fe content",700],["under",400]];

// ---------- Drawing ----------
const svg = d3.select("#c");
const defs = svg.append("defs");
defs.append("filter").attr("id","soft").attr("x","-2%").attr("y","-2%").attr("width","104%").attr("height","104%")
  .append("feGaussianBlur").attr("stdDeviation",0.8);
const grad = defs.append("linearGradient").attr("id","fade");
grad.append("stop").attr("offset","0").attr("stop-color",chromColors[4]).attr("stop-opacity",0);
grad.append("stop").attr("offset","0.45").attr("stop-color",chromColors[4]).attr("stop-opacity",1);
grad.append("stop").attr("offset","1").attr("stop-color",chromColors[4]).attr("stop-opacity",1);
defs.append("clipPath").attr("id","feClip").append("rect").attr("x",-40).attr("y",700).attr("width",60).attr("height",560);

const cum = [0]; chromLengths.forEach(l => cum.push(cum[cum.length-1]+l));
const mx = d3.scaleLinear().domain([0,cum[5]]).range([220.5,1881]);
const my = d3.scaleLinear().domain([0,6]).range([1260,417]);
const pxPerMb = mx(1)-mx(0);

const profiles=[chr1Profile,chr2Profile,chr3Profile,chr4Profile,chr5Profile];
const points=[chr1Points,chr2Points,chr3Points,chr4Points,chr5Points];
const runs=[chr1Runs,chr2Runs,chr3Runs,chr4Runs,chr5Runs];
const gaps=[chr1Gaps,chr2Gaps,chr3Gaps,chr4Gaps,chr5Gaps];
const holes=[chr1Holes,chr2Holes,chr3Holes,chr4Holes,chr5Holes];

const man = svg.append("g").attr("filter","url(#soft)");
chromosomes.forEach((c,i)=>{
  const g = man.append("g"), col = chromColors[i], off = cum[i], r = chromDotRadius[i];
  const X = d => mx(off+d);
  g.append("path").datum(profiles[i]).attr("fill",col)
    .attr("d",d3.area().curve(d3.curveStepAfter).x(d=>X(d[0])).y0(my(0)).y1(d=>my(d[1])));
  g.append("path").datum(profiles[i]).attr("fill","none").attr("stroke",col).attr("stroke-width",r*2)
    .attr("stroke-linecap","round").attr("stroke-dasharray","0 8")
    .attr("d",d3.line().curve(d3.curveStepAfter).x(d=>X(d[0])).y(d=>my(d[1])));
  g.selectAll(".gap").data(gaps[i]).join("line").attr("class","gap").attr("stroke","#fff").attr("stroke-linecap","round")
    .attr("x1",d=>X(d[0])).attr("x2",d=>X(d[0])).attr("y1",d=>my(d[1])).attr("y2",d=>my(d[2])).attr("stroke-width",d=>d[3]*pxPerMb);
  g.selectAll(".hole").data(holes[i]).join("circle").attr("class","hole").attr("fill","#fff").attr("r",2.6)
    .attr("cx",d=>X(d[0])).attr("cy",d=>my(d[1]));
  g.selectAll(".run").data(runs[i]).join("line").attr("class","run").attr("stroke",col).attr("stroke-linecap","round").attr("stroke-width",r*2)
    .attr("stroke-dasharray","0 8.5")
    .attr("x1",d=>X(d[0])).attr("x2",d=>X(d[0])).attr("y1",d=>my(d[1])).attr("y2",d=>my(d[2]));
  g.selectAll(".pt").data(points[i]).join("circle").attr("class","pt").attr("fill",col).attr("r",r)
    .attr("cx",d=>X(d[0])).attr("cy",d=>my(d[1]));
});
// x axis of the Manhattan plot
man.append("line").attr("x1",mx(0)).attr("x2",mx(cum[5])).attr("y1",1260).attr("y2",1260).attr("stroke","#777").attr("stroke-width",2.2);
man.selectAll(".sp").data(baselineSpecks).join("line").attr("class","sp").attr("x1",d=>mx(d)-1.5).attr("x2",d=>mx(d)+1.5).attr("y1",1258.5).attr("y2",1258.5).attr("stroke","#222").attr("stroke-width",2.5);
const axX = man.append("g").attr("transform","translate(0,1260)")
  .call(d3.axisBottom(mx).tickValues(cum).tickSize(16).tickFormat(""));
axX.select(".domain").remove();
axX.selectAll("line").attr("stroke","#111").attr("stroke-width",3);
man.selectAll(".cl").data(chromosomes).join("text").attr("class","cl").attr("text-anchor","middle").attr("y",1310)
  .attr("x",(d,i)=>mx(cum[i]+chromLengths[i]/2)).text(d=>d)
  .style("font-family","'Liberation Sans',sans-serif").style("font-size","24px").style("fill","#555");
// y axis
const axY = man.append("g").attr("transform","translate(153,0)")
  .call(d3.axisLeft(my).tickValues(mYTicks).tickSize(16).tickSizeOuter(0).tickFormat((d,i)=>mYTickLabels[i]));
axY.select(".domain").attr("stroke","#000").attr("stroke-width",4);
axY.selectAll("line").attr("stroke","#000").attr("stroke-width",4);
axY.selectAll("text").attr("transform","translate(-40,0) rotate(-90)").attr("x",0).attr("y",0).attr("dy","0.36em")
  .attr("text-anchor","middle").style("font-family","'Liberation Sans',sans-serif").style("font-size","24px").style("fill","#555");

// titles
function logTitle(x,y,size,prefix){
  const t = svg.append("text").attr("x",x).attr("y",y).style("font-size",size+"px");
  t.append("tspan").text(prefix+"-log");
  t.append("tspan").text("10").attr("dy",size*0.2).style("font-size",(size*0.62)+"px");
  t.append("tspan").text("(P)").attr("dy",-size*0.2);
}
logTitle(37,346,60,"");
logTitle(1687,85,53,"Observed vs expected ");
svg.append("text").attr("x",908).attr("y",1368).style("font-size","52px").text("Chromosome");

// annotation
const ann = svg.append("text").attr("text-anchor","end").style("font-family","Roboto,sans-serif").style("font-weight",700).style("font-size","43px");
const a1 = ann.append("tspan").attr("x",1422).attr("y",245).style("fill",chromColors[4]);
a1.append("tspan").text("Fe").style("fill",chromColors[4]);
a1.append("tspan").text("3").attr("dy",8).style("font-size","26px").style("fill",chromColors[4]);
a1.append("tspan").text("+").attr("dy",-24).style("font-size","26px").style("fill",chromColors[4]);
a1.append("tspan").text(" dicitrate transport").attr("dy",16).style("fill",chromColors[4]);
ann.append("tspan").attr("x",1422).attr("y",295).text("permease").style("fill",chromColors[4]);
svg.append("rect").attr("x",1437).attr("y",227).attr("width",138).attr("height",10).attr("fill","url(#fade)");

// QQ plot
const qx = d3.scaleLinear().domain([-0.31,6.42]).range([1753,2431]);
const qy = d3.scaleLinear().domain([-0.37,7.69]).range([562,128]);
const qq = svg.append("g").attr("filter","url(#soft)");
qq.append("rect").attr("x",qx.range()[0]).attr("y",qy.range()[1]).attr("width",qx.range()[1]-qx.range()[0]).attr("height",qy.range()[0]-qy.range()[1]).attr("fill","#ebebeb");
const gridX = (vals,w,o)=>qq.append("g").selectAll("line").data(vals).join("line").attr("x1",d=>qx(d)).attr("x2",d=>qx(d)).attr("y1",qy.range()[0]).attr("y2",qy.range()[1]).attr("stroke","#fff").attr("stroke-width",w).attr("stroke-opacity",o);
const gridY = (vals,w,o)=>qq.append("g").selectAll("line").data(vals).join("line").attr("y1",d=>qy(d)).attr("y2",d=>qy(d)).attr("x1",qx.range()[0]).attr("x2",qx.range()[1]).attr("stroke","#fff").attr("stroke-width",w).attr("stroke-opacity",o);
gridX(qqMinorX,1,.5); gridY(qqMinorY,1,.5); gridX(qqTicks,2,.75); gridY(qqTicks,2,.75);
const qqPts = qqExpected.map((e,i)=>[e,qqObserved[i]]);
qq.append("path").datum(qqPts).attr("fill","none").attr("stroke","#333").attr("stroke-width",2.6)
  .attr("d",d3.line().x(d=>qx(d[0])).y(d=>qy(d[1])));
qq.append("path").datum(qqPts.filter(d=>d[0]<=4.63)).attr("fill","none").attr("stroke","#000").attr("stroke-width",13).attr("stroke-linejoin","round").attr("stroke-linecap","round")
  .attr("d",d3.line().x(d=>qx(d[0])).y(d=>qy(d[1])));
qq.selectAll(".qp").data(qqPts).join("circle").attr("class","qp").attr("r",d=>d[0]<4.9?6.5:5.2).attr("fill","#000").attr("cx",d=>qx(d[0])).attr("cy",d=>qy(d[1]));
qq.append("line").attr("x1",qx(qqLineEnds[0])).attr("y1",qy(qqLineEnds[0])).attr("x2",qx(qqLineEnds[1])).attr("y2",qy(qqLineEnds[1]))
  .attr("stroke","#3030ff").attr("stroke-opacity",0.85).attr("stroke-width",3.4);
const qFmt = d3.format("d");
const qAxX = qq.append("g").attr("transform",`translate(0,${qy.range()[0]})`).call(d3.axisBottom(qx).tickValues(qqTicks).tickSize(5).tickPadding(5).tickFormat(qFmt));
const qAxY = qq.append("g").attr("transform",`translate(${qx.range()[0]},0)`).call(d3.axisLeft(qy).tickValues(qqTicks).tickSize(4).tickPadding(5).tickFormat(qFmt));
[qAxX,qAxY].forEach(a=>{a.select(".domain").remove();a.selectAll("line").attr("stroke","#999").attr("stroke-width",2);
  a.selectAll("text").style("font-family","'Liberation Sans',sans-serif").style("font-size","21px").style("fill","#999");});

// Fe change plot
svg.append("text").attr("x",1972).attr("y",685).style("font-size","43px").text("Fe change (%)");
const fx = d3.scaleLinear().domain([0,1]).range([2074,2235]);
const fy = d3.scaleLinear().domain([-50,50]).range([1217.5,887.5]);
const fe = svg.append("g").attr("filter","url(#soft)");
const feAll = feAbsentX.map((x,i)=>[x,feAbsentY[i]]).concat(fePresentX.map((x,i)=>[x,fePresentY[i]]));
fe.selectAll(".fd").data(feAll).join("circle").attr("class","fd").attr("r",5.6).attr("fill","#bdbdbd").attr("fill-opacity",.75).attr("cx",d=>fx(d[0])).attr("cy",d=>fy(d[1]));
fe.append("line").attr("x1",1978).attr("x2",2332).attr("y1",fy(0)).attr("y2",fy(0)).attr("stroke","#bbb").attr("stroke-width",3.6);
feGroups.forEach((g,i)=>{
  fe.append("line").attr("x1",fx(g)).attr("x2",fx(g)).attr("y1",fy(feLow[i])).attr("y2",fy(feHigh[i])).attr("stroke",feColors[i]).attr("stroke-width",5);
  fe.append("circle").attr("cx",fx(g)).attr("cy",fy(feMeans[i])).attr("r",13).attr("fill",feColors[i]);
});
const feAxY = fe.append("g").attr("transform","translate(1978,0)").attr("clip-path","url(#feClip)")
  .call(d3.axisLeft(fy).tickValues(feTicks).tickSize(8).tickPadding(6).tickFormat(d=>d===0?"0":"150"));
fe.append("line").attr("x1",1978).attr("x2",1978).attr("y1",740).attr("y2",1252).attr("stroke","#222").attr("stroke-width",3.4);
feAxY.select(".domain").remove();
const feAxX = fe.append("g").attr("transform","translate(0,1252)")
  .call(d3.axisBottom(fx).tickValues(feGroups).tickSize(6).tickPadding(6).tickFormat(d3.format("d")));
feAxX.select(".domain").remove();
fe.append("line").attr("x1",1978).attr("x2",2332).attr("y1",1252).attr("y2",1252).attr("stroke","#222").attr("stroke-width",3.4);
[feAxY,feAxX].forEach(a=>{a.selectAll("line").attr("stroke","#333").attr("stroke-width",3);
  a.selectAll("text").style("font-family","'Liberation Sans',sans-serif").style("font-size","30px").style("font-weight",700).style("fill","#333");});
[["SNP","absent",2053],["SNP","present",2262]].forEach(r=>{
  svg.append("text").attr("x",r[2]).attr("y",1349).attr("text-anchor","middle").style("font-size","44px").text(r[0]);
  svg.append("text").attr("x",r[2]).attr("y",1408).attr("text-anchor","middle").style("font-size","47.5px").text(r[1]);
});

// right-hand note
const noteY = d3.scaleLinear().domain([0,7]).range([778.5,1248]);
noteLines.forEach((l,i)=>{
  svg.append("text").attr("x",2588).attr("y",noteY(i)).attr("text-anchor","middle").style("font-size",(l[1]===700?50:53)+"px").style("font-weight",l[1]).text(l[0]);
});
const eco = svg.append("text").attr("x",2588).attr("y",noteY(7)).attr("text-anchor","middle").style("font-size","53px");
eco.append("tspan").text("eCO");
eco.append("tspan").text("2").attr("dy",9);
</script></body></html>
